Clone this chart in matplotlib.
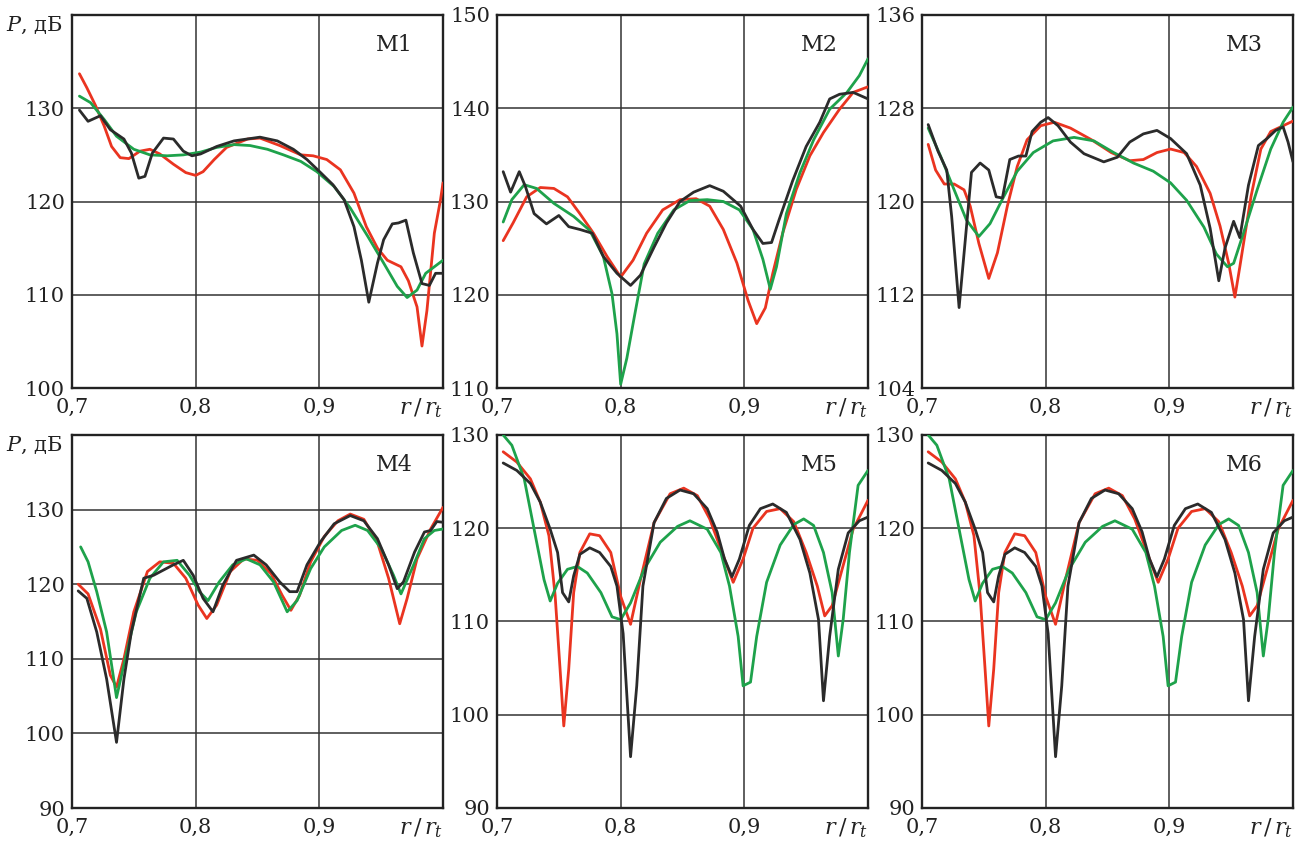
import numpy as np
import matplotlib
matplotlib.use("Agg")
import matplotlib.pyplot as plt

plt.rcParams['font.family'] = ['DejaVu Serif']
plt.rcParams['mathtext.fontset'] = 'dejavuserif'

# ---------------- DATA ----------------
# M1
m1_black_x = [0.706, 0.713, 0.723, 0.731, 0.742, 0.748, 0.754, 0.759, 0.765, 0.774, 0.782, 0.790, 0.797, 0.804, 0.817, 0.831, 0.852, 0.866, 0.879, 0.890, 0.901, 0.911, 0.920, 0.928, 0.934, 0.940, 0.947, 0.952, 0.959, 0.964, 0.970, 0.976, 0.983, 0.989, 0.994, 1.0]
m1_black_y = [129.8, 128.6, 129.2, 127.7, 126.7, 125.2, 122.5, 122.7, 125.2, 126.8, 126.7, 125.4, 124.9, 125.1, 125.9, 126.5, 126.9, 126.5, 125.6, 124.5, 123.1, 121.8, 120.2, 117.3, 113.7, 109.2, 113.4, 115.9, 117.6, 117.7, 118.0, 114.5, 111.2, 111.0, 112.3, 112.3]
m1_red_x = [0.706, 0.712, 0.719, 0.726, 0.732, 0.739, 0.746, 0.755, 0.763, 0.771, 0.782, 0.792, 0.800, 0.806, 0.815, 0.825, 0.842, 0.852, 0.868, 0.885, 0.895, 0.906, 0.917, 0.928, 0.938, 0.947, 0.955, 0.966, 0.972, 0.979, 0.983, 0.987, 0.993, 0.998, 1.0]
m1_red_y = [133.7, 132.2, 130.3, 128.1, 125.9, 124.7, 124.6, 125.4, 125.6, 125.1, 124.0, 123.1, 122.8, 123.2, 124.5, 125.8, 126.7, 126.8, 126.0, 125.0, 124.9, 124.5, 123.4, 120.9, 117.3, 115.0, 113.7, 113.0, 111.5, 108.7, 104.5, 108.3, 116.6, 120.2, 122.0]
m1_green_x = [0.706, 0.715, 0.726, 0.736, 0.750, 0.763, 0.777, 0.790, 0.804, 0.817, 0.831, 0.844, 0.858, 0.871, 0.885, 0.898, 0.912, 0.925, 0.939, 0.952, 0.963, 0.971, 0.979, 0.986, 0.993, 1.0]
m1_green_y = [131.3, 130.6, 128.8, 127.0, 125.6, 125.0, 124.9, 125.0, 125.3, 125.8, 126.1, 126.0, 125.6, 125.0, 124.3, 123.2, 121.6, 119.3, 116.3, 113.4, 110.9, 109.7, 110.5, 112.3, 113.0, 113.7]

# M2
m2_black_x = [0.705, 0.711, 0.718, 0.723, 0.730, 0.740, 0.750, 0.758, 0.767, 0.777, 0.786, 0.797, 0.808, 0.816, 0.827, 0.837, 0.848, 0.859, 0.872, 0.883, 0.897, 0.907, 0.915, 0.922, 0.928, 0.939, 0.950, 0.961, 0.969, 0.977, 0.988, 1.0]
m2_black_y = [133.2, 131.0, 133.2, 131.6, 128.7, 127.6, 128.5, 127.3, 127.0, 126.6, 124.1, 122.3, 121.0, 122.1, 125.1, 127.7, 130.0, 131.0, 131.7, 131.1, 129.5, 127.0, 125.5, 125.6, 128.0, 132.2, 135.9, 138.5, 141.0, 141.5, 141.7, 141.0]
m2_red_x = [0.705, 0.713, 0.724, 0.735, 0.746, 0.757, 0.767, 0.778, 0.789, 0.800, 0.810, 0.821, 0.834, 0.848, 0.861, 0.872, 0.883, 0.894, 0.903, 0.910, 0.917, 0.923, 0.931, 0.942, 0.953, 0.964, 0.977, 0.988, 1.0]
m2_red_y = [125.8, 127.7, 130.5, 131.5, 131.4, 130.5, 128.7, 126.6, 124.1, 121.9, 123.7, 126.6, 129.1, 130.2, 130.3, 129.5, 127.0, 123.4, 119.4, 116.9, 118.6, 122.3, 126.6, 131.3, 134.9, 137.4, 139.9, 141.7, 142.3]
m2_green_x = [0.705, 0.712, 0.722, 0.732, 0.746, 0.762, 0.775, 0.786, 0.793, 0.797, 0.800, 0.805, 0.811, 0.819, 0.830, 0.843, 0.856, 0.870, 0.883, 0.896, 0.907, 0.915, 0.921, 0.926, 0.934, 0.945, 0.956, 0.969, 0.983, 0.993, 1.0]
m2_green_y = [127.8, 130.2, 131.8, 131.4, 129.8, 128.4, 126.9, 124.1, 120.1, 115.8, 110.4, 113.2, 117.6, 123.3, 126.6, 129.1, 130.1, 130.2, 130.0, 129.1, 127.0, 123.8, 120.6, 123.0, 128.7, 133.1, 136.6, 139.9, 141.7, 143.5, 145.3]

# M3
m3_black_x = [0.705, 0.713, 0.720, 0.724, 0.730, 0.735, 0.740, 0.747, 0.754, 0.760, 0.765, 0.771, 0.778, 0.784, 0.789, 0.796, 0.802, 0.810, 0.820, 0.831, 0.847, 0.858, 0.868, 0.879, 0.890, 0.901, 0.914, 0.925, 0.933, 0.940, 0.945, 0.952, 0.957, 0.964, 0.972, 0.979, 0.986, 0.992, 0.996, 1.0]
m3_black_y = [126.6, 124.3, 122.7, 118.7, 110.9, 116.7, 122.5, 123.3, 122.7, 120.4, 120.3, 123.6, 123.9, 123.9, 126.0, 126.8, 127.2, 126.5, 125.1, 124.1, 123.4, 123.8, 125.1, 125.8, 126.1, 125.4, 124.1, 121.4, 117.7, 113.2, 116.0, 118.3, 116.9, 121.4, 124.8, 125.4, 126.1, 126.4, 125.1, 123.4]
m3_red_x = [0.705, 0.711, 0.718, 0.726, 0.734, 0.739, 0.746, 0.754, 0.761, 0.769, 0.777, 0.785, 0.796, 0.807, 0.820, 0.837, 0.853, 0.868, 0.879, 0.890, 0.901, 0.912, 0.922, 0.933, 0.941, 0.948, 0.953, 0.957, 0.966, 0.974, 0.982, 0.992, 1.0]
m3_red_y = [124.9, 122.7, 121.5, 121.5, 121.0, 119.6, 116.4, 113.4, 115.6, 119.6, 123.0, 125.3, 126.5, 126.8, 126.3, 125.3, 124.2, 123.5, 123.6, 124.2, 124.5, 124.2, 123.0, 120.7, 117.9, 114.7, 111.8, 114.4, 120.4, 124.5, 126.0, 126.5, 126.9]
m3_green_x = [0.705, 0.715, 0.726, 0.736, 0.746, 0.755, 0.766, 0.777, 0.790, 0.806, 0.823, 0.839, 0.855, 0.871, 0.887, 0.901, 0.914, 0.928, 0.938, 0.947, 0.952, 0.960, 0.971, 0.982, 0.992, 1.0]
m3_green_y = [126.3, 123.9, 121.0, 118.4, 117.0, 118.1, 120.4, 122.6, 124.2, 125.2, 125.5, 125.2, 124.2, 123.3, 122.6, 121.6, 120.1, 117.8, 115.5, 114.4, 114.7, 117.3, 121.0, 124.5, 126.8, 128.1]

# M4
m4_black_x = [0.705, 0.712, 0.720, 0.728, 0.736, 0.742, 0.748, 0.758, 0.766, 0.774, 0.782, 0.790, 0.798, 0.806, 0.814, 0.822, 0.833, 0.847, 0.857, 0.868, 0.876, 0.882, 0.890, 0.901, 0.912, 0.925, 0.936, 0.947, 0.956, 0.963, 0.968, 0.977, 0.985, 0.990, 0.995, 1.0]
m4_black_y = [119.1, 118.1, 113.6, 107.3, 98.8, 107.3, 113.6, 120.8, 121.2, 121.9, 122.6, 123.2, 121.2, 118.1, 116.3, 119.9, 123.2, 123.9, 122.6, 120.3, 119.0, 119.0, 122.6, 125.7, 128.1, 129.2, 128.5, 126.1, 122.6, 119.4, 120.3, 124.3, 127.0, 127.2, 128.4, 128.3]
m4_red_x = [0.705, 0.713, 0.723, 0.731, 0.736, 0.742, 0.750, 0.761, 0.771, 0.782, 0.792, 0.802, 0.809, 0.817, 0.828, 0.839, 0.850, 0.861, 0.870, 0.877, 0.884, 0.893, 0.904, 0.915, 0.925, 0.936, 0.947, 0.956, 0.965, 0.971, 0.979, 0.990, 1.0]
m4_red_y = [120.0, 118.7, 114.0, 107.8, 106.2, 110.0, 116.3, 121.7, 123.0, 122.8, 120.8, 117.2, 115.4, 117.2, 121.7, 123.4, 123.2, 121.4, 118.5, 116.5, 118.5, 123.0, 126.4, 128.5, 129.4, 128.7, 125.6, 120.8, 114.7, 118.1, 123.4, 127.4, 130.3]
m4_green_x = [0.707, 0.713, 0.720, 0.728, 0.736, 0.743, 0.752, 0.763, 0.774, 0.785, 0.795, 0.803, 0.810, 0.819, 0.830, 0.841, 0.852, 0.863, 0.874, 0.882, 0.893, 0.904, 0.918, 0.929, 0.939, 0.950, 0.960, 0.966, 0.975, 0.985, 0.993, 1.0]
m4_green_y = [125.0, 123.0, 119.0, 113.6, 104.8, 110.0, 116.3, 120.8, 123.0, 123.2, 121.2, 119.0, 117.8, 120.3, 122.6, 123.4, 122.6, 120.3, 116.3, 117.8, 122.1, 125.0, 127.2, 127.9, 127.2, 124.8, 121.2, 118.7, 122.1, 126.1, 127.2, 127.4]

# M5
m5_black_x = [0.705, 0.716, 0.727, 0.735, 0.743, 0.749, 0.753, 0.758, 0.762, 0.767, 0.775, 0.783, 0.792, 0.797, 0.802, 0.808, 0.813, 0.818, 0.827, 0.837, 0.848, 0.859, 0.870, 0.878, 0.884, 0.890, 0.896, 0.904, 0.913, 0.923, 0.934, 0.945, 0.953, 0.960, 0.964, 0.969, 0.976, 0.984, 0.993, 1.0]
m5_black_y = [127.0, 126.2, 124.8, 122.8, 119.9, 117.4, 113.1, 112.1, 114.9, 117.2, 117.9, 117.4, 115.9, 113.8, 108.7, 95.5, 103.1, 113.8, 120.6, 123.2, 124.1, 123.7, 122.1, 119.6, 116.7, 114.8, 116.7, 120.3, 122.1, 122.6, 121.7, 118.8, 115.2, 110.2, 101.5, 108.4, 115.6, 119.5, 120.8, 121.2]
m5_red_x = [0.705, 0.716, 0.727, 0.735, 0.742, 0.747, 0.751, 0.754, 0.758, 0.762, 0.767, 0.775, 0.783, 0.792, 0.800, 0.808, 0.816, 0.827, 0.840, 0.851, 0.862, 0.872, 0.882, 0.891, 0.899, 0.907, 0.918, 0.929, 0.940, 0.950, 0.959, 0.965, 0.971, 0.977, 0.988, 1.0]
m5_red_y = [128.2, 127.1, 125.3, 122.8, 119.2, 112.8, 104.9, 98.8, 104.9, 113.1, 117.4, 119.4, 119.2, 117.4, 112.7, 109.7, 114.5, 120.6, 123.7, 124.3, 123.5, 121.0, 117.4, 114.2, 116.7, 120.0, 121.8, 122.1, 120.7, 117.4, 113.8, 110.6, 111.7, 114.6, 119.9, 123.0]
m5_green_x = [0.705, 0.712, 0.722, 0.730, 0.738, 0.743, 0.749, 0.757, 0.765, 0.773, 0.784, 0.793, 0.800, 0.808, 0.819, 0.832, 0.846, 0.856, 0.870, 0.881, 0.888, 0.895, 0.899, 0.905, 0.910, 0.918, 0.929, 0.940, 0.948, 0.956, 0.964, 0.971, 0.976, 0.980, 0.985, 0.992, 1.0]
m5_green_y = [130.0, 128.9, 125.3, 119.9, 114.5, 112.2, 114.1, 115.6, 115.9, 115.2, 113.1, 110.5, 110.2, 112.0, 115.6, 118.5, 120.2, 120.8, 119.9, 117.4, 113.8, 108.4, 103.1, 103.5, 108.4, 114.2, 118.2, 120.4, 121.0, 120.3, 117.4, 113.1, 106.3, 110.3, 117.4, 124.6, 126.2]

# M6 (same curves as M5 in the reference)
m6_black_x, m6_black_y = m5_black_x, m5_black_y
m6_red_x, m6_red_y = m5_red_x, m5_red_y
m6_green_x, m6_green_y = m5_green_x, m5_green_y

panel_names = ["M1", "M2", "M3", "M4", "M5", "M6"]
ylims = [(100, 140), (110, 150), (104, 136), (90, 140), (90, 130), (90, 130)]
yticks = [[100, 110, 120, 130], [110, 120, 130, 140, 150], [104, 112, 120, 128, 136],
          [90, 100, 110, 120, 130], [90, 100, 110, 120, 130], [90, 100, 110, 120, 130]]
xticks = [0.7, 0.8, 0.9]
xtick_labels = ["0,7", "0,8", "0,9"]

series = [
    [(m1_black_x, m1_black_y), (m1_green_x, m1_green_y), (m1_red_x, m1_red_y)],
    [(m2_black_x, m2_black_y), (m2_green_x, m2_green_y), (m2_red_x, m2_red_y)],
    [(m3_black_x, m3_black_y), (m3_green_x, m3_green_y), (m3_red_x, m3_red_y)],
    [(m4_black_x, m4_black_y), (m4_green_x, m4_green_y), (m4_red_x, m4_red_y)],
    [(m5_black_x, m5_black_y), (m5_green_x, m5_green_y), (m5_red_x, m5_red_y)],
    [(m6_black_x, m6_black_y), (m6_green_x, m6_green_y), (m6_red_x, m6_red_y)],
]
colors = {"black": "#2b2b2b", "green": "#1ea24b", "red": "#ea3420"}

# ---------------- PLOT ----------------
fig = plt.figure(figsize=(12.96, 8.43), dpi=100)
W, H = 1296, 843
lefts = [72, 497, 922]
tops = [15, 435]
aw, ah = 371, 373

line_kw = dict(lw=2.0, solid_joinstyle="round", solid_capstyle="round")

for i in range(6):
    r, c = divmod(i, 3)
    ax = fig.add_axes([lefts[c] / W, 1 - (tops[r] + ah) / H, aw / W, ah / H])
    (bx, by), (gx, gy), (rx, ry) = series[i]
    ax.plot(rx, ry, color=colors["red"], zorder=3, **line_kw)
    ax.plot(gx, gy, color=colors["green"], zorder=4, **line_kw)
    ax.plot(bx, by, color=colors["black"], zorder=5, **line_kw)
    ax.set_xlim(0.7, 1.0)
    ax.set_ylim(*ylims[i])
    ax.set_xticks(xticks)
    ax.set_xticklabels(xtick_labels)
    ax.set_yticks(yticks[i])
    ax.tick_params(length=0, labelsize=15, colors="#222222")
    ax.tick_params(axis="x", pad=7)
    ax.tick_params(axis="y", pad=5)
    ax.grid(True, color="#333333", lw=1.1, zorder=1)
    for s in ax.spines.values():
        s.set_linewidth(1.7)
        s.set_color("#222222")
    ax.text(0.87, 0.92, panel_names[i], transform=ax.transAxes, fontsize=16,
            ha="center", va="center", color="#222222", zorder=6)
    ax.text(1.0, -0.022, r"$r\,/\,r_t$", transform=ax.transAxes, fontsize=16,
            ha="right", va="top", color="#222222")
    if c == 0:
        ax.text(-0.025, 1.0, r"$P$, дБ", transform=ax.transAxes, fontsize=15,
                ha="right", va="top", color="#222222")

fig.savefig("out.png", dpi=100)
